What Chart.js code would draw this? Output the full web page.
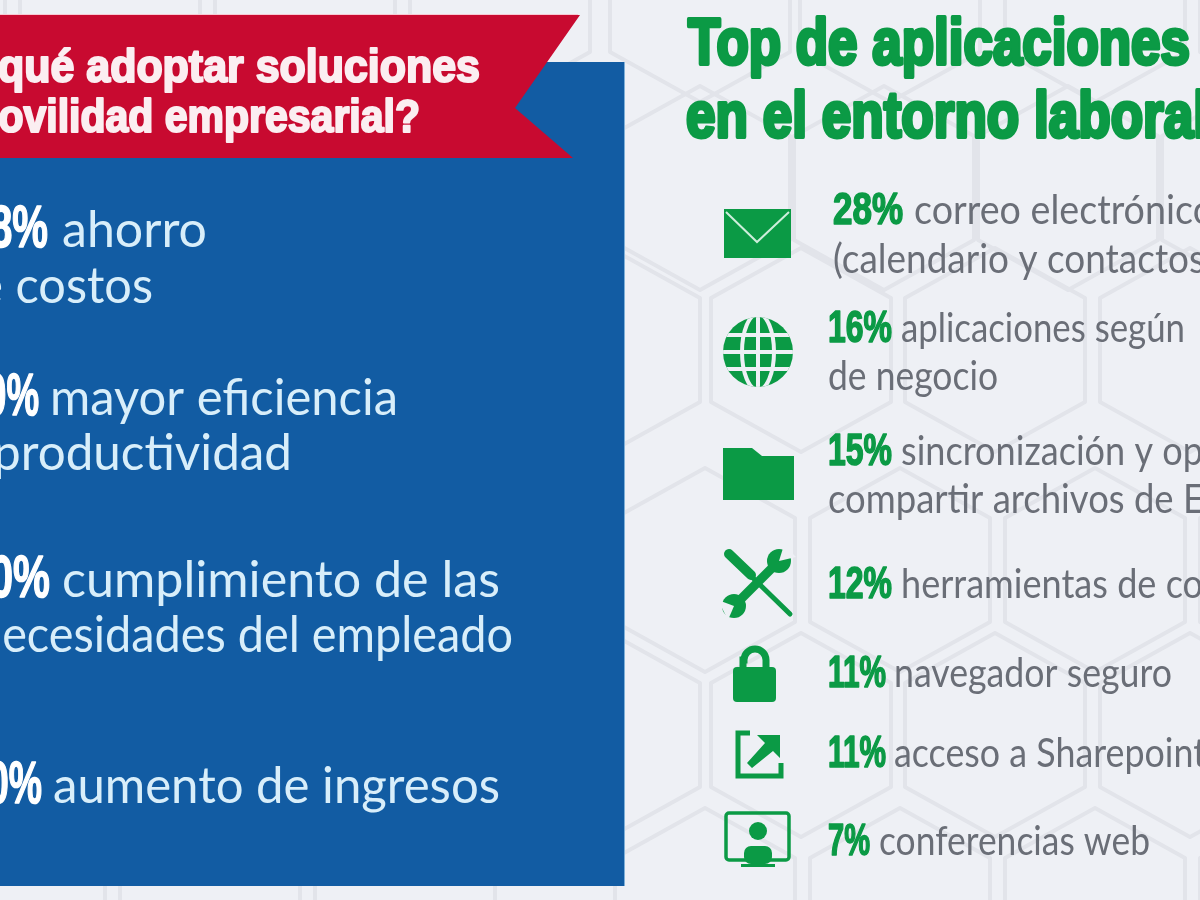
<!DOCTYPE html>
<html lang="es"><head><meta charset="utf-8">
<style>html,body{margin:0;padding:0;background:#eef0f5;overflow:hidden}canvas{display:block}</style>
<script src="https://cdn.jsdelivr.net/npm/chart.js@4"></script></head>
<body><canvas id="c" width="1200" height="900" style="width:1200px;height:900px"></canvas>
<script>
// Data (left-hand digits are cropped in the reference, only the visible digit is kept)
const appCategories = ["correo electrónico","aplicaciones según","sincronización y op","herramientas de co","navegador seguro","acceso a Sharepoint","conferencias web"];
const appShares = [28,16,15,12,11,11,7];
const appSecondLines = ["(calendario y contactos","de negocio","compartir archivos de E","","","",""];
const reasonLabels = ["ahorro","mayor eficiencia","cumplimiento de las","aumento de ingresos"];
const reasonVisible = ["8%","0%","0%","0%"];
const reasonSecondLines = ["de costos","productividad","necesidades del empleado",""];
const titleLeft = ["qué adoptar soluciones","movilidad empresarial?"];
const titleRight = ["Top de aplicaciones","en el entorno laboral"];

// Layout (page geometry, separate from data)
const GREEN="#0b9a45", GRAY="#6a6e77", PALE="#d8eefa", BLUE="#125ca3", RED="#c80a30";
const NARROW="'Liberation Sans Narrow','Liberation Sans'";
const HEAVY="bold 46px "+NARROW, BIGPCT="bold 60px "+NARROW, BODY="50px Lato", SMALL="40px Lato";
const appLayout=[
 {pctX:833,pctW:70,txtX:914,txtW:300,y:224,x2:833,w2:372,y2:273},
 {pctX:828,pctW:64,txtX:901,txtW:284,y:342,x2:828,w2:170,y2:390},
 {pctX:828,pctW:64,txtX:901,txtW:302,y:465,x2:828,w2:376,y2:513},
 {pctX:828,pctW:64,txtX:901,txtW:302,y:598},
 {pctX:828,pctW:58,txtX:894,txtW:278,y:687},
 {pctX:828,pctW:58,txtX:894,txtW:312,y:767},
 {pctX:828,pctW:42,txtX:879,txtW:271,y:855}];
const reasonLayout=[
 {pctX:-10,pctW:58,txtX:62,txtW:145,y:247,x2:-50,w2:203,y2:303},
 {pctX:-14,pctW:53,txtX:50,txtW:348,y:415,x2:-7,w2:299,y2:470},
 {pctX:-10,pctW:60,txtX:62,txtW:438,y:597,x2:-24,w2:537,y2:652},
 {pctX:-12,pctW:54,txtX:53,txtW:447,y:803}];

function fit(ctx,str,x,y,font,color,w,bold){
  ctx.save();ctx.font=font;ctx.fillStyle=color;ctx.textBaseline="alphabetic";
  const m=ctx.measureText(str).width;ctx.translate(x,y);ctx.scale(w/m,1);
  if(bold){ctx.strokeStyle=color;ctx.lineWidth=bold;ctx.lineJoin="round";ctx.strokeText(str,0,0);}
  ctx.fillText(str,0,0);ctx.restore();
}
function poly(ctx,p){ctx.beginPath();p.forEach((q,i)=>i?ctx.lineTo(q[0],q[1]):ctx.moveTo(q[0],q[1]));ctx.closePath();}
function hexagons(ctx){
  ctx.save();ctx.strokeStyle="#e2e4ea";ctx.lineWidth=4;ctx.lineJoin="round";
  const rows=[[0,[-85,110,305,500,700,890,1095,1290]],[188,[15,200,395,700,884,1068,1252]],[350,[15,210,415,610,801,995,1190]],
    [570,[15,210,405,705,900,1095,1290]],[735,[15,210,415,610,801,995,1190]],[910,[15,210,405,705,900,1095,1290]]];
  rows.forEach(([cy,xs])=>xs.forEach(cx=>{
    const a=90,h=52,p=50;
    poly(ctx,[[cx,cy-h-p],[cx+a,cy-h],[cx+a,cy+h],[cx,cy+h+p],[cx-a,cy+h],[cx-a,cy-h]]);ctx.stroke();
  }));
  ctx.restore();
}
function panels(ctx){
  ctx.fillStyle=BLUE;ctx.fillRect(0,62,624,824);
  ctx.fillStyle="#7fb0d8";ctx.fillRect(624,62,1,824);
  ctx.fillStyle=RED;poly(ctx,[[0,15],[580,15],[515,108],[573,158],[0,158]]);ctx.fill();
  ctx.fillStyle="#f7c9d3";ctx.fillRect(0,14,578,1);
}
function icons(ctx){
  ctx.save();ctx.fillStyle=GREEN;ctx.strokeStyle=GREEN;
  // envelope
  ctx.fillRect(724,209,67,49);
  ctx.strokeStyle="#cdeedb";ctx.lineWidth=2;ctx.beginPath();ctx.moveTo(726,212);ctx.lineTo(757,242);ctx.lineTo(789,212);ctx.stroke();
  // globe
  ctx.strokeStyle=GREEN;ctx.fillStyle=GREEN;
  ctx.save();ctx.beginPath();ctx.arc(758,352,35,0,Math.PI*2);ctx.clip();
  ctx.fillRect(723,317,70,70);
  ctx.strokeStyle="#eef0f5";ctx.lineWidth=4;
  [335,352,369].forEach(y=>{ctx.beginPath();ctx.moveTo(720,y);ctx.lineTo(796,y);ctx.stroke();});
  ctx.beginPath();ctx.ellipse(758,352,16,38,0,0,Math.PI*2);ctx.stroke();
  ctx.beginPath();ctx.moveTo(758,314);ctx.lineTo(758,390);ctx.stroke();
  ctx.restore();
  // folder
  poly(ctx,[[723,448],[752,448],[762,456],[794,456],[794,500],[723,500]]);ctx.fill();
  // screwdriver
  ctx.lineCap="round";ctx.lineWidth=10;
  ctx.beginPath();ctx.moveTo(729,554);ctx.lineTo(751,575);ctx.stroke();
  ctx.lineWidth=5;ctx.beginPath();ctx.moveTo(752,577);ctx.lineTo(790,614);ctx.stroke();
  // wrench
  ctx.lineCap="butt";ctx.lineWidth=9;ctx.beginPath();ctx.moveTo(773,567);ctx.lineTo(740,600);ctx.stroke();
  ctx.beginPath();ctx.arc(779,561,12,0,Math.PI*2);ctx.fill();
  ctx.beginPath();ctx.arc(734,606,12,0,Math.PI*2);ctx.fill();
  ctx.fillStyle="#eef0f5";
  poly(ctx,[[779,561],[784,545],[796,557]]);ctx.fill();
  poly(ctx,[[734,606],[718,600],[728,620]]);ctx.fill();
  ctx.fillStyle=GREEN;
  // lock
  ctx.beginPath();ctx.roundRect(733,667,43,35,4);ctx.fill();
  ctx.lineWidth=7;ctx.beginPath();ctx.moveTo(743,670);ctx.lineTo(743,660);ctx.arc(755,660,11,Math.PI,0);ctx.lineTo(766,670);ctx.stroke();
  // share
  ctx.lineWidth=5;ctx.lineCap="butt";
  ctx.beginPath();ctx.moveTo(750,733);ctx.lineTo(738,733);ctx.lineTo(738,776);ctx.lineTo(781,776);ctx.lineTo(781,763);ctx.stroke();
  poly(ctx,[[757,735],[780,735],[780,758],[773,751],[752,768],[747,763],[765,743]]);ctx.fill();
  // monitor
  ctx.lineWidth=3.5;ctx.beginPath();ctx.roundRect(726,813,63,47,3);ctx.stroke();
  ctx.beginPath();ctx.arc(758,831,9,0,Math.PI*2);ctx.fill();
  ctx.beginPath();ctx.roundRect(744,846,28,18,7);ctx.fill();
  ctx.fillRect(741,864,34,3);
  ctx.restore();
}
const sceneText={id:"sceneText",beforeDraw(ch){
  const ctx=ch.ctx;ctx.save();
  ctx.fillStyle="#eef0f5";ctx.fillRect(0,0,1200,900);
  hexagons(ctx);panels(ctx);icons(ctx);
  fit(ctx,titleLeft[0],-2,82,HEAVY,"#fbeef1",482,2.2);
  fit(ctx,titleLeft[1],-38,132,HEAVY,"#fbeef1",458,2.2);
  fit(ctx,titleRight[0],688,64,"bold 64px "+NARROW,GREEN,502,4);
  fit(ctx,titleRight[1],686,137,"bold 64px "+NARROW,GREEN,522,4);
  reasonLabels.forEach((t,i)=>{const L=reasonLayout[i];
    fit(ctx,reasonVisible[i],L.pctX,L.y,BIGPCT,"#ffffff",L.pctW,1.5);
    fit(ctx,t,L.txtX,L.y,BODY,PALE,L.txtW);
    if(reasonSecondLines[i])fit(ctx,reasonSecondLines[i],L.x2,L.y2,BODY,PALE,L.w2);
  });
  const vals=ch.data.datasets[0].data;
  ch.data.labels.forEach((t,i)=>{const L=appLayout[i];
    fit(ctx,vals[i]+"%",L.pctX,L.y,"bold 44px "+NARROW,GREEN,L.pctW,1.6);
    fit(ctx,t,L.txtX,L.y,SMALL,GRAY,L.txtW);
    if(appSecondLines[i])fit(ctx,appSecondLines[i],L.x2,L.y2,SMALL,GRAY,L.w2);
  });
  ctx.restore();
}};
new Chart(document.getElementById("c"),{
  type:"bar",
  data:{labels:appCategories,datasets:[{label:"Top de aplicaciones",data:appShares,backgroundColor:"rgba(0,0,0,0)",borderWidth:0}]},
  options:{responsive:false,animation:false,devicePixelRatio:1,
    layout:{padding:0},
    plugins:{legend:{display:false},tooltip:{enabled:false},title:{display:false}},
    scales:{x:{display:false},y:{display:false}}},
  plugins:[sceneText]
});
</script></body></html>
